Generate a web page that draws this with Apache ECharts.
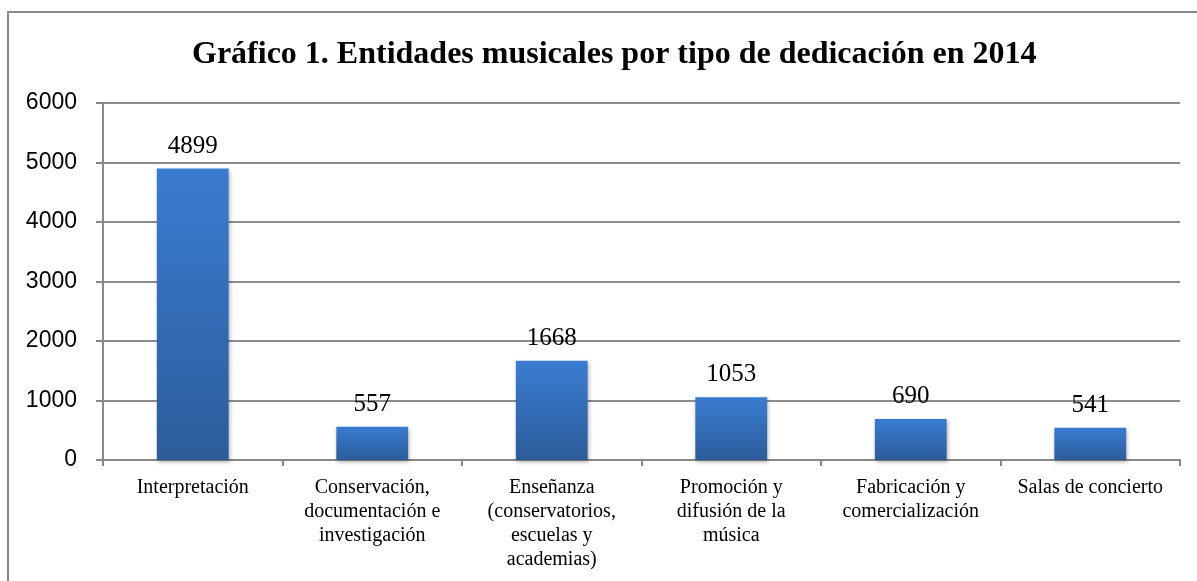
<!DOCTYPE html>
<html>
<head>
<meta charset="utf-8">
<script src="https://cdn.jsdelivr.net/npm/echarts@6/dist/echarts.min.js"></script>
<style>
  html, body { margin: 0; padding: 0; background: #fff; }
  #chart { width: 1197px; height: 581px; }
</style>
</head>
<body>
<div id="chart"></div>
<script>
var categories = [
    'Interpretación',
    'Conservación,\ndocumentación e\ninvestigación',
    'Enseñanza\n(conservatorios,\nescuelas y\nacademias)',
    'Promoción y\ndifusión de la\nmúsica',
    'Fabricación y\ncomercialización',
    'Salas de concierto'
];
var values = [4899, 557, 1668, 1053, 690, 541];
var titleText = 'Gráfico 1. Entidades musicales por tipo de dedicación en 2014';

var myChart = echarts.init(document.getElementById('chart'));
var option = {
    animation: false,
    title: {
        text: titleText,
        left: 187,
        top: 34,
        textStyle: {
            fontFamily: 'Liberation Serif',
            fontWeight: 'bold',
            fontSize: 32,
            color: '#000'
        }
    },
    graphic: [
        {
            type: 'rect',
            shape: { x: 8, y: 12, width: 1200, height: 600 },
            style: { fill: 'none', stroke: '#8a8a8a', lineWidth: 2 },
            silent: true
        }
    ],
    grid: {
        left: 103,
        right: 17,
        top: 103,
        bottom: 121
    },
    xAxis: {
        type: 'category',
        data: categories,
        axisLine: { lineStyle: { color: '#888', width: 2 } },
        axisTick: { show: true, length: 6, lineStyle: { color: '#888', width: 2 } },
        axisLabel: {
            interval: 0,
            margin: 16,
            fontFamily: 'Liberation Serif',
            fontSize: 20,
            lineHeight: 24,
            color: '#000'
        }
    },
    yAxis: {
        type: 'value',
        min: 0,
        max: 6000,
        interval: 1000,
        axisLine: { show: true, lineStyle: { color: '#888', width: 2 } },
        axisTick: { show: true, length: 7, lineStyle: { color: '#888', width: 2 } },
        splitLine: { lineStyle: { color: '#8c8c8c', width: 2 } },
        axisLabel: {
            margin: 26,
            fontFamily: 'Liberation Sans',
            fontSize: 23,
            color: '#000',
            formatter: function (v) { return String(v); }
        }
    },
    series: [
        {
            type: 'bar',
            data: values,
            barWidth: '40%',
            itemStyle: {
                color: new echarts.graphic.LinearGradient(0, 0, 0, 1, [
                    { offset: 0, color: '#3a7cd1' },
                    { offset: 1, color: '#2c5c9a' }
                ]),
                shadowColor: 'rgba(0,0,0,0.3)',
                shadowBlur: 4,
                shadowOffsetX: 1,
                shadowOffsetY: 2
            },
            label: {
                show: true,
                position: 'top',
                distance: 10,
                fontFamily: 'Liberation Serif',
                fontSize: 25,
                color: '#000'
            }
        }
    ]
};
myChart.setOption(option);
</script>
</body>
</html>
